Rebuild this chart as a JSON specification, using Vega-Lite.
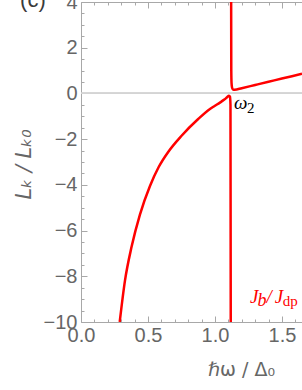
{
  "$schema": "https://vega.github.io/schema/vega-lite/v6.json",
  "width": 221,
  "height": 320,
  "autosize": {"type": "none"},
  "padding": {"left": 81, "top": 2, "right": 0, "bottom": 68},
  "background": "white",
  "config": {
    "view": {"stroke": null},
    "axis": {
      "domainColor": "#a8a8a8",
      "tickColor": "#a8a8a8",
      "domainWidth": 1,
      "tickWidth": 1,
      "labelColor": "#666666",
      "labelFont": "Liberation Sans",
      "labelFontSize": 20,
      "titleColor": "#666666",
      "titleFont": "DejaVu Sans",
      "titleFontSize": 19,
      "titleFontWeight": "normal",
      "grid": false,
      "labelOverlap": false,
      "labelFlush": false,
      "labelBound": false
    }
  },
  "datasets": {
    "curve": [
      {"i": 1, "branch": "lower", "x": 0.289, "y": -10},
      {"i": 2, "branch": "lower", "x": 0.328, "y": -8.2},
      {"i": 3, "branch": "lower", "x": 0.378, "y": -6.7},
      {"i": 4, "branch": "lower", "x": 0.44, "y": -5.3},
      {"i": 5, "branch": "lower", "x": 0.515, "y": -4.05},
      {"i": 6, "branch": "lower", "x": 0.58, "y": -3.22},
      {"i": 7, "branch": "lower", "x": 0.651, "y": -2.56},
      {"i": 8, "branch": "lower", "x": 0.751, "y": -1.85},
      {"i": 9, "branch": "lower", "x": 0.875, "y": -1.12},
      {"i": 10, "branch": "lower", "x": 0.963, "y": -0.68},
      {"i": 11, "branch": "lower", "x": 1.0, "y": -0.54},
      {"i": 12, "branch": "lower", "x": 1.04, "y": -0.39},
      {"i": 13, "branch": "lower", "x": 1.07, "y": -0.27},
      {"i": 14, "branch": "lower", "x": 1.09, "y": -0.17},
      {"i": 15, "branch": "lower", "x": 1.105, "y": -0.1},
      {"i": 16, "branch": "lower", "x": 1.112, "y": -0.14},
      {"i": 17, "branch": "lower", "x": 1.116, "y": -0.5},
      {"i": 18, "branch": "lower", "x": 1.118, "y": -10},
      {"i": 19, "branch": "upper", "x": 1.121, "y": 4},
      {"i": 20, "branch": "upper", "x": 1.122, "y": 1.0},
      {"i": 21, "branch": "upper", "x": 1.124, "y": 0.45},
      {"i": 22, "branch": "upper", "x": 1.128, "y": 0.25},
      {"i": 23, "branch": "upper", "x": 1.135, "y": 0.17},
      {"i": 24, "branch": "upper", "x": 1.147, "y": 0.16},
      {"i": 25, "branch": "upper", "x": 1.2, "y": 0.23},
      {"i": 26, "branch": "upper", "x": 1.3, "y": 0.37},
      {"i": 27, "branch": "upper", "x": 1.4, "y": 0.51},
      {"i": 28, "branch": "upper", "x": 1.5, "y": 0.65},
      {"i": 29, "branch": "upper", "x": 1.65, "y": 0.86}
    ],
    "notes": [
      {"kind": "panel", "text": "(c)", "x": -0.455, "y": 3.76, "color": "dark"},
      {"kind": "big", "text": "ω", "x": 1.142, "y": -0.68, "color": "black"},
      {"kind": "subup", "text": "2", "x": 1.239, "y": -0.86, "color": "black"},
      {"kind": "big", "text": "J", "x": 1.261, "y": -9.17, "color": "red"},
      {"kind": "sub", "text": "b", "x": 1.318, "y": -9.3, "color": "red"},
      {"kind": "big", "text": "/", "x": 1.385, "y": -9.17, "color": "red"},
      {"kind": "big", "text": "J", "x": 1.447, "y": -9.17, "color": "red"},
      {"kind": "subup", "text": "dp", "x": 1.507, "y": -9.3, "color": "red"}
    ]
  },
  "resolve": {"axis": {"x": "independent", "y": "independent"}},
  "layer": [
    {
      "data": {"name": "curve"},
      "mark": {"type": "rule", "color": "#d4d4d4", "strokeWidth": 1},
      "encoding": {
        "y": {"datum": 0, "type": "quantitative", "scale": {"domain": [-10, 4], "nice": false}, "axis": null}
      }
    },
    {
      "data": {"name": "curve"},
      "mark": {"type": "point", "opacity": 0},
      "encoding": {
        "x": {
          "field": "x", "type": "quantitative",
          "scale": {"domain": [0, 1.65], "nice": false, "zero": false},
          "axis": {
            "orient": "top",
            "values": [0, 0.1, 0.2, 0.3, 0.4, 0.5, 0.6, 0.7, 0.8, 0.9, 1.0, 1.1, 1.2, 1.3, 1.4, 1.5, 1.6],
            "labels": false,
            "title": null,
            "tickSize": {"condition": {"test": "abs(datum.value*2-round(datum.value*2))<1e-6", "value": -6}, "value": -3}
          }
        },
        "y": {"field": "y", "type": "quantitative", "scale": {"domain": [-10, 4], "nice": false}, "axis": null}
      }
    },
    {
      "data": {"name": "curve"},
      "mark": {"type": "line", "color": "#ff0000", "strokeWidth": 2.5, "clip": true, "interpolate": "monotone"},
      "encoding": {
        "x": {
          "field": "x", "type": "quantitative",
          "scale": {"domain": [0, 1.65], "nice": false, "zero": false},
          "axis": {
            "orient": "bottom",
            "values": [0, 0.1, 0.2, 0.3, 0.4, 0.5, 0.6, 0.7, 0.8, 0.9, 1.0, 1.1, 1.2, 1.3, 1.4, 1.5, 1.6],
            "labelExpr": "abs(datum.value*2-round(datum.value*2))<1e-6 ? format(datum.value,'.1f') : ''",
            "tickSize": {"condition": {"test": "abs(datum.value*2-round(datum.value*2))<1e-6", "value": -6}, "value": -3},
            "labelPadding": 9,
            "title": "ℏω / Δ₀",
            "titleX": 160,
            "titleY": 53,
            "titleAlign": "center",
            "titleBaseline": "alphabetic"
          }
        },
        "y": {
          "field": "y", "type": "quantitative",
          "scale": {"domain": [-10, 4], "nice": false},
          "axis": {
            "orient": "left",
            "values": [-10, -9.5, -9, -8.5, -8, -7.5, -7, -6.5, -6, -5.5, -5, -4.5, -4, -3.5, -3, -2.5, -2, -1.5, -1, -0.5, 0, 0.5, 1, 1.5, 2, 2.5, 3, 3.5, 4],
            "labelExpr": "abs(datum.value % 2) < 1e-9 ? format(datum.value,'d') : ''",
            "tickSize": {"condition": {"test": "abs(datum.value % 2) < 1e-9", "value": -6}, "value": -3},
            "labelPadding": 10,
            "title": "Lₖ / Lₖ₀",
            "titleFontStyle": "italic",
            "titleFontSize": 21,
            "titleX": -57,
            "titleY": 162,
            "titleAngle": -90,
            "titleAlign": "center",
            "titleBaseline": "middle"
          }
        },
        "detail": {"field": "branch"},
        "order": {"field": "i"}
      }
    },
    {
      "data": {"name": "notes"},
      "transform": [{"filter": "datum.kind == 'panel'"}],
      "mark": {"type": "text", "align": "left", "baseline": "alphabetic", "font": "Liberation Sans", "fontSize": 22, "clip": false},
      "encoding": {
        "x": {"field": "x", "type": "quantitative", "axis": null},
        "y": {"field": "y", "type": "quantitative", "axis": null},
        "text": {"field": "text"},
        "color": {"field": "color", "type": "nominal", "scale": {"domain": ["black", "red", "dark"], "range": ["#000000", "#ff0000", "#3a3a3a"]}, "legend": null}
      }
    },
    {
      "data": {"name": "notes"},
      "transform": [{"filter": "datum.kind == 'big'"}],
      "mark": {"type": "text", "align": "left", "baseline": "alphabetic", "font": "Liberation Serif", "fontSize": 19, "fontStyle": "italic"},
      "encoding": {
        "x": {"field": "x", "type": "quantitative", "axis": null},
        "y": {"field": "y", "type": "quantitative", "axis": null},
        "text": {"field": "text"},
        "color": {"field": "color", "type": "nominal", "scale": {"domain": ["black", "red", "dark"], "range": ["#000000", "#ff0000", "#3a3a3a"]}, "legend": null}
      }
    },
    {
      "data": {"name": "notes"},
      "transform": [{"filter": "datum.kind == 'sub'"}],
      "mark": {"type": "text", "align": "left", "baseline": "alphabetic", "font": "Liberation Serif", "fontSize": 18, "fontStyle": "italic"},
      "encoding": {
        "x": {"field": "x", "type": "quantitative", "axis": null},
        "y": {"field": "y", "type": "quantitative", "axis": null},
        "text": {"field": "text"},
        "color": {"field": "color", "type": "nominal", "scale": {"domain": ["black", "red", "dark"], "range": ["#000000", "#ff0000", "#3a3a3a"]}, "legend": null}
      }
    },
    {
      "data": {"name": "notes"},
      "transform": [{"filter": "datum.kind == 'subup'"}],
      "mark": {"type": "text", "align": "left", "baseline": "alphabetic", "font": "Liberation Serif", "fontSize": 15},
      "encoding": {
        "x": {"field": "x", "type": "quantitative", "axis": null},
        "y": {"field": "y", "type": "quantitative", "axis": null},
        "text": {"field": "text"},
        "color": {"field": "color", "type": "nominal", "scale": {"domain": ["black", "red", "dark"], "range": ["#000000", "#ff0000", "#3a3a3a"]}, "legend": null}
      }
    }
  ]
}
